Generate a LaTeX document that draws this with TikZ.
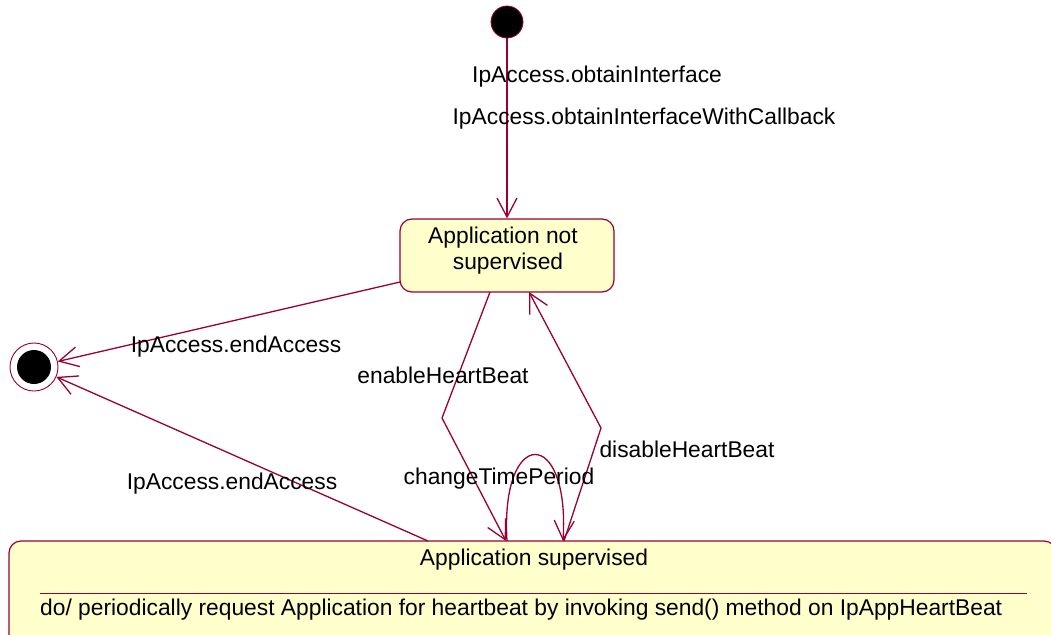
\documentclass[tikz,border=0pt]{standalone}
\usepackage{fontspec}
\setmainfont{Liberation Sans}
\usetikzlibrary{arrows.meta}
\definecolor{edgecol}{HTML}{990033}
\definecolor{statefill}{HTML}{FFFFCC}
\begin{document}
\begin{tikzpicture}[x=1pt,y=-1pt,
  lbl/.style={font=\fontsize{22.8}{26}\selectfont, inner sep=0pt},
  conn/.style={draw=edgecol, line width=1.3pt, -{Straight Barb[length=19pt,width=20pt,line width=1.3pt]}},
  statebox/.style={draw=edgecol, fill=statefill, line width=1.2pt, rounded corners=12pt, inner sep=0pt},
]
\useasboundingbox (0,0) rectangle (1051,634);
\clip (0,0) rectangle (1051,634);

% states
\node[circle, fill=black, draw=edgecol, line width=0.8pt, minimum size=32pt, inner sep=0pt] (init) at (507,22) {};
\node[circle, draw=edgecol, line width=0.9pt, minimum size=48pt, inner sep=0pt] (final) at (34,367) {};
\node[circle, fill=black, minimum size=34pt, inner sep=0pt] (finalin) at (34,367) {};
\node[statebox, minimum width=214pt, minimum height=73pt] (ns) at (507,255.5) {};
\node[statebox, minimum width=1047pt, minimum height=119pt] (sup) at (532.5,600.5) {};

% state texts
\node[lbl] (nst1) at (503,237.5) {Application not};
\node[lbl] (nst2) at (508,263.5) {supervised};
\node[lbl] (supt) at (534,559.5) {Application supervised};
\coordinate (sepL) at (40,593);
\coordinate (sepR) at (1027,593);
\draw[edgecol, line width=1pt] (sepL) -- (sepR);
\node[lbl, anchor=west] (supdo) at (40,610) {do/ periodically request Application for heartbeat by invoking send() method on IpAppHeartBeat};

% connector points
\coordinate (nsL) at (400,282);
\coordinate (supA) at (428,541);
\coordinate (enS) at (490,292);
\coordinate (enB) at (442,418);
\coordinate (enE) at (506,541);
\coordinate (diS) at (564,541);
\coordinate (diB) at (601,428);
\coordinate (diE) at (529,292);
\coordinate (lpS) at (507,541);
\coordinate (lpE) at (563,541);

% connectors
\draw[conn] (init) -- (ns.north);
\draw[conn] (nsL) -- (final);
\draw[conn] (supA) -- (final);
\draw[conn] (enS) -- (enB) -- (enE);
\draw[conn] (diS) -- (diB) -- (diE);
\draw[conn] (lpS) .. controls (500,426) and (570,426) .. (lpE);

% labels
\node[lbl] (l1) at (597,76.5) {IpAccess.obtainInterface};
\node[lbl] (l2) at (644,118.5) {IpAccess.obtainInterfaceWithCallback};
\node[lbl] (l3) at (236,346.5) {IpAccess.endAccess};
\node[lbl] (l4) at (443,375.5) {enableHeartBeat};
\node[lbl] (l5) at (232,483.5) {IpAccess.endAccess};
\node[lbl] (l6) at (499,478.5) {changeTimePeriod};
\node[lbl] (l7) at (687,449.5) {disableHeartBeat};
\end{tikzpicture}
\end{document}
